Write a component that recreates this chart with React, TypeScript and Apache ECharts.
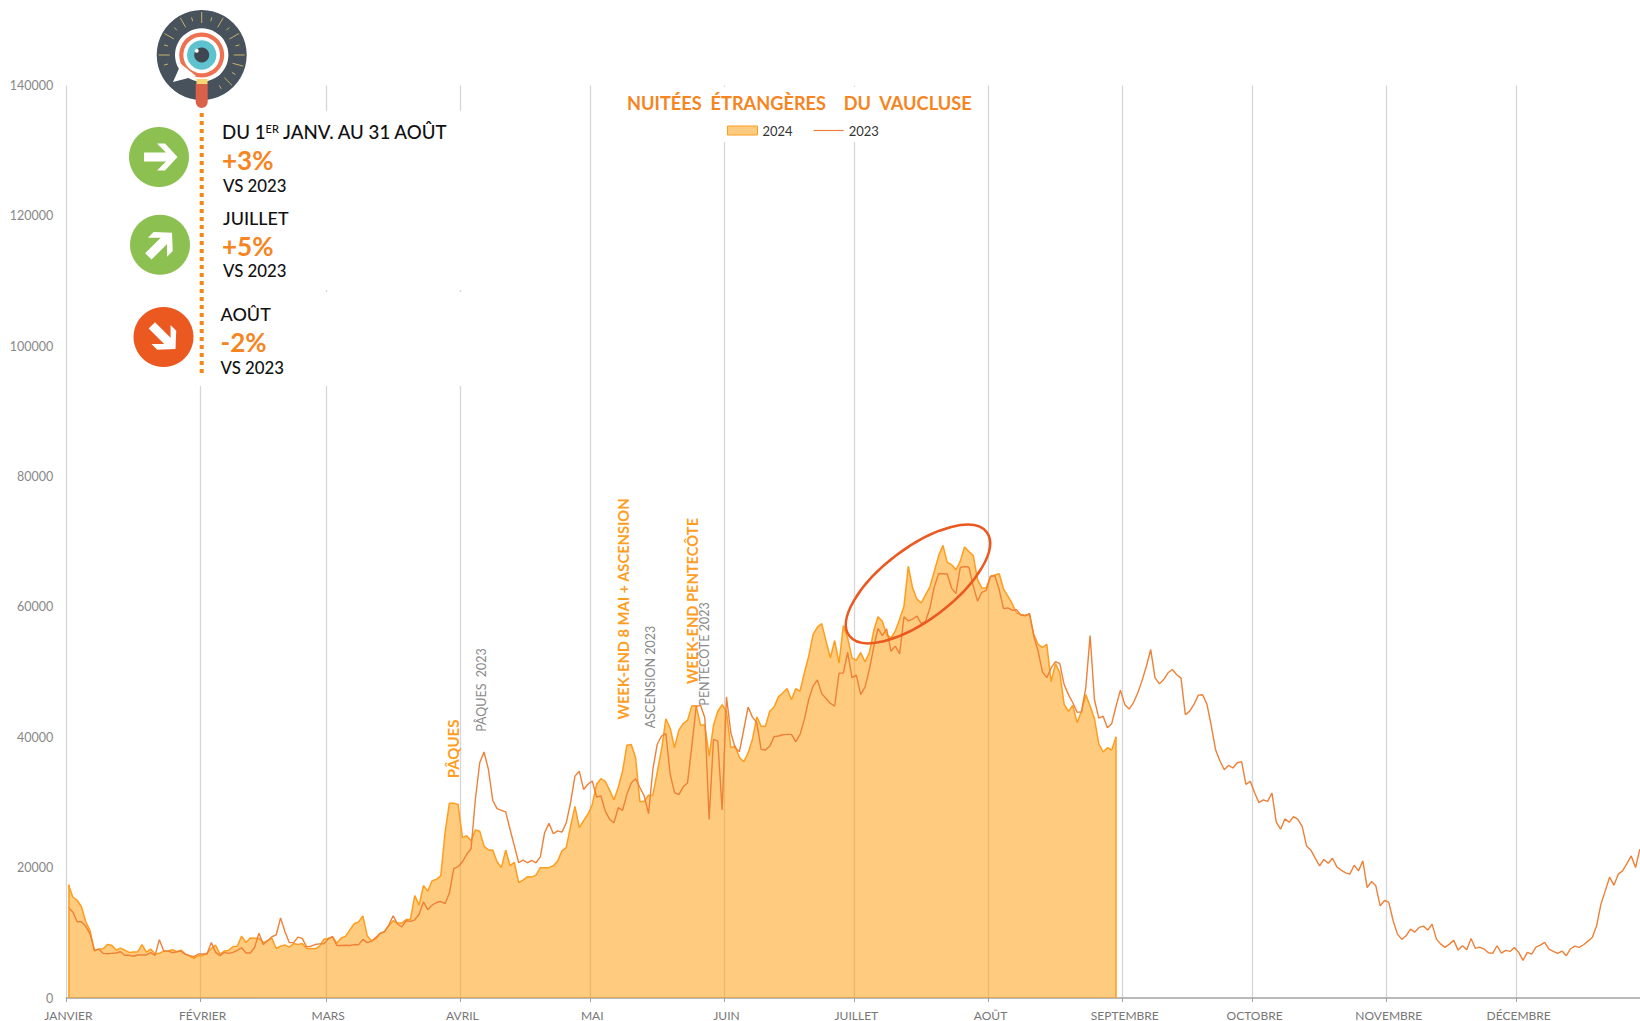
import React, { useEffect, useRef } from "react";
import * as echarts from "echarts";

const monthLabels = ["JANVIER","FÉVRIER","MARS","AVRIL","MAI","JUIN","JUILLET","AOÛT","SEPTEMBRE","OCTOBRE","NOVEMBRE","DÉCEMBRE"];
const monthStarts = [0,31,60,91,121,152,182,213,244,274,305,335];
const dayCount = 366;

const values2024 = [
17360,15500,15000,14000,11700,10300,7200,7500,7550,8200,8100,7350,7650,7350,7000,7050,7100,8200,7050,7500,6750,6850,7200,7200,7400,7100,7350,6750,6450,6100,6500,
6500,6900,7600,8100,6750,7200,7300,7900,7950,9500,8500,9200,9150,9150,8500,8800,9150,7600,7950,8150,7800,8350,8200,8350,7600,7600,7550,7950,9000,
9150,9400,8400,9200,9450,10450,11400,11650,12600,9550,8800,9050,9900,10200,11100,11850,11500,11500,12050,12050,15700,14250,17250,16400,18000,18200,18750,25400,29900,29900,29700,
24600,24900,24100,25800,25600,23300,22700,22700,20900,20000,22700,20300,20800,17700,18100,18600,18550,18850,20000,20000,20000,20300,21000,22570,23100,26400,29400,26150,27200,28200,
29700,32800,33650,33250,31900,30400,32300,34800,38800,38900,36900,30100,30200,31100,31150,34600,38150,42850,41400,38400,41100,42100,42600,44800,44850,41900,41900,37100,41800,44000,45000,
44000,38400,38650,36900,36250,37600,39700,43150,41700,41700,44000,44650,46200,46800,47500,45750,47450,47100,49900,52450,55750,56900,57450,54750,52200,54850,51400,57150,
55250,52200,51800,53000,51600,52950,56300,58500,57800,55750,55250,56300,58100,60100,66250,62900,61200,60600,61900,63100,65450,67800,69450,66850,66500,65700,67000,69200,68500,67900,64200,62900,62900,
64700,64900,65100,62750,61650,60500,59100,58850,58750,58850,55750,54250,53800,54250,48500,51300,49900,45050,44000,44900,42250,44000,46550,44800,42850,39000,37750,38400,38050,40100
];

const values2023 = [
13900,13200,11700,11700,11000,9800,7350,7500,6850,6800,6850,6900,7100,6550,6550,6400,6600,6600,6600,6950,6550,8950,7200,7200,6950,7100,7200,6700,6500,6350,6750,
6750,6750,8500,7000,6500,7000,6850,7000,7300,7700,6900,6900,7750,9950,8200,8800,9400,9700,12300,10200,8500,8500,9350,9150,7850,7950,8200,8300,8300,
9050,9400,8050,8050,8100,8050,8200,8150,9000,8500,8700,9300,9950,10150,11200,12600,11350,10900,11850,11750,12000,12850,14750,13550,14250,14650,14800,14500,16100,19850,20150,
20900,22050,22900,30500,36100,37750,35100,30350,29050,28800,28550,25900,23350,20750,21150,20750,21100,20750,21650,25400,26800,25200,25650,25450,26900,30000,34050,34800,32000,32800,
33300,30850,31000,28700,27400,26900,29200,28800,31250,33000,33650,32300,31000,28300,35100,38900,40200,40550,34300,31500,31200,32400,33000,38650,44700,44950,43000,27400,39700,39400,28850,
46200,40700,38400,37800,41200,44650,43100,42250,38150,38050,38650,40100,40200,40400,40450,40450,39300,40450,42750,45800,47850,48800,46700,45950,45200,44800,49850,49850,
53050,49150,49550,46550,47700,50400,53750,56700,55600,56650,53200,54000,52800,58500,57850,58150,58600,57450,57800,59850,63050,65100,65100,65050,62900,62050,66050,66200,66100,63200,60900,62250,62550,
64700,64800,62650,59750,59850,59500,59600,58750,58650,59000,55500,53200,50000,49150,50650,51600,51300,48100,46550,45300,43850,43900,47600,55600,45800,42950,43250,41450,42100,44800,
47240,45050,44330,45300,46800,48700,50900,53470,49130,48200,48870,49900,50400,49600,49080,43460,44020,45040,46470,46530,45050,41720,38050,36360,35030,35700,35290,36100,36260,32790,
33250,31500,29980,30390,30180,31460,27000,25900,27480,26960,27830,27420,26300,23340,22680,21450,20280,21250,20680,21450,20120,19610,19200,19000,20380,19510,21040,16950,17870,17210,14150,
14960,14660,11850,9800,8990,9550,10570,10110,10830,11030,10420,11340,9040,8270,7760,8270,8840,7350,8020,7400,9140,7610,7810,7510,6950,6840,8020,6890,7300,7150,
7760,7000,5770,7000,6740,7810,8120,8530,7510,7150,6840,7200,6490,7560,7970,7760,8170,8730,9290,11080,14400,16440,18540,17310,19000,19510,20630,21800,20020,22830
];

const yMax = 140000;
const yStep = 20000;

const titleText = "NUITÉES  ÉTRANGÈRES    DU  VAUCLUSE";
const annotations2024 = ["PÂQUES", "WEEK-END 8 MAI + ASCENSION", "WEEK-END PENTECÔTE"];
const annotations2023 = ["PÂQUES  2023", "ASCENSION 2023", "PENTECÔTE 2023"];

const ORANGE = "#F6851F";
const FILL = "#FF9900";
const LINE24 = "#FF9D1E";
const LINE23 = "#EE8038";

const categories = Array.from({ length: dayCount }, (_, i) => {
  const m = monthStarts.indexOf(i);
  return m >= 0 ? monthLabels[m] : "";
});
const isMonthStart = (i: number) => monthStarts.indexOf(i) >= 0;

const txt = (text: string, x: number, y: number, size: number, weight: number, fill: string, extra: any = {}) => ({
  type: "text", x, y, z: 100, silent: true, rotation: extra.rotation || 0,
  style: {
    text, fill,
    font: `${weight} ${size}px Lato`,
    align: extra.align || "left",
    verticalAlign: "middle",
  },
});
const vtxt = (text: string, x: number, y: number, size: number, weight: number, fill: string) =>
  txt(text, x, y, size, weight, fill, { rotation: Math.PI / 2, align: "center" });
const white = (x: number, y: number, width: number, height: number) => ({
  type: "rect", z: 50, silent: true, shape: { x, y, width, height }, style: { fill: "#fff" },
});
const circle = (cx: number, cy: number, r: number, fill: string) => ({
  type: "circle", z: 100, silent: true, shape: { cx, cy, r }, style: { fill },
});
const arrowPts = [[17,0],[4.5,-13.5],[-3.5,-13.5],[5.5,-4.5],[-16.5,-4.5],[-16.5,4.5],[5.5,4.5],[-3.5,13.5],[4.5,13.5]];
const arrow = (x: number, y: number, rotation: number) => ({
  type: "polygon", z: 101, silent: true, x, y, rotation, shape: { points: arrowPts }, style: { fill: "#fff" },
});

const rayAngles = [0,15,30,45,60,75,90,105,120,135,150,165,180,195,-15,-30,-45,-60];
const rays = rayAngles.map((deg, i) => {
  const a = (deg * Math.PI) / 180;
  const long = i % 2 === 0;
  const r0 = long ? 32 : 35;
  const r1 = long ? 43 : 39;
  return {
    type: "line", z: 101, silent: true,
    shape: { x1: 201.7 + r0 * Math.cos(a), y1: 55 - r0 * Math.sin(a), x2: 201.7 + r1 * Math.cos(a), y2: 55 - r1 * Math.sin(a) },
    style: { stroke: "#C8B26A", lineWidth: 1 },
  };
});

export default function App() {
  const ref = useRef<HTMLDivElement>(null);
  useEffect(() => {
    const chart = echarts.init(ref.current!, undefined, { renderer: "svg" });
    const last = values2024.length - 1;
    const edgeLine = (i: number, v: number) => [{ coord: [i, 0] }, { coord: [i, v] }];
    chart.setOption({
      animation: false,
      backgroundColor: "#fff",
      textStyle: { fontFamily: "Lato" },
      grid: { left: 66.3, top: 85.6, width: 4.329 * dayCount, height: 913.4, containLabel: false },
      legend: {
        left: 727, top: 124, z: 200, padding: 0, itemWidth: 30, itemHeight: 9, itemGap: 21, selectedMode: false,
        textStyle: { color: "#333", fontSize: 13, fontFamily: "Lato", padding: [1, 0, 0, 0] },
        data: [
          { name: "2024", icon: "rect", itemStyle: { color: "#FDCB80", borderColor: LINE24, borderWidth: 1 } },
          { name: "2023", icon: "path://M0,4 H30 V5.2 H0 Z", itemStyle: { color: LINE23, borderWidth: 0 } },
        ],
      },
      xAxis: {
        type: "category",
        data: categories,
        boundaryGap: true,
        axisLine: { show: true, lineStyle: { color: "#A3A3A3", width: 1.5 } },
        axisTick: { show: true, length: 4, interval: (i: number) => isMonthStart(i), lineStyle: { color: "#A3A3A3", width: 1 } },
        axisLabel: { show: true, interval: (i: number) => isMonthStart(i), color: "#777", fontSize: 12, fontFamily: "Lato", margin: 11, hideOverlap: false },
        splitLine: { show: true, interval: (i: number) => isMonthStart(i), lineStyle: { color: "#D6D6D6", width: 1.3 } },
      },
      yAxis: {
        type: "value", min: 0, max: yMax, interval: yStep,
        axisLine: { show: false }, axisTick: { show: false }, splitLine: { show: false },
        axisLabel: { color: "#888", fontSize: 12.5, fontFamily: "Lato", margin: 13, formatter: (v: number) => String(v) },
      },
      series: [
        {
          name: "2024", type: "line", data: values2024, showSymbol: false, symbol: "none", smooth: false, silent: true,
          lineStyle: { color: LINE24, width: 1.5 },
          areaStyle: { color: FILL, opacity: 0.5 },
          markLine: {
            silent: true, symbol: "none", label: { show: false },
            lineStyle: { color: LINE24, width: 1.5, type: "solid" },
            data: [edgeLine(0, values2024[0]), edgeLine(last, values2024[last])],
          },
        },
        {
          name: "2023", type: "line", data: values2023, showSymbol: false, symbol: "none", smooth: false, silent: true,
          lineStyle: { color: LINE23, width: 1.4 },
        },
      ],
      graphic: { elements: [
        white(190, 110.7, 280, 179.3),
        white(190, 292, 280, 94),
        white(145, 4, 113, 111),
        white(620, 87, 355, 55),
        // logo
        circle(201.7, 55, 45, "#47525C"),
        ...rays,
        { type: "polygon", z: 101, silent: true, shape: { points: [[173,82],[181,64],[196,76]] }, style: { fill: "#fff" } },
        circle(201.7, 55, 26.7, "#fff"),
        circle(201.7, 55, 22.5, "#EE7152"),
        circle(201.7, 55, 18.3, "#fff"),
        circle(201.7, 55, 14.7, "#5FC3CF"),
        circle(201.7, 55, 7.5, "#3F4750"),
        circle(196.7, 50.7, 2, "#fff"),
        { type: "rect", z: 102, silent: true, shape: { x: 196.5, y: 79, width: 11, height: 5 }, style: { fill: "#F7D774" } },
        { type: "rect", z: 102, silent: true, shape: { x: 195.7, y: 84, width: 12, height: 24, r: [0, 0, 6, 6] }, style: { fill: "#D9614A" } },
        // dotted stem
        { type: "line", z: 100, silent: true, shape: { x1: 201.7, y1: 113, x2: 201.7, y2: 373 }, style: { stroke: ORANGE, lineWidth: 4, lineDash: [4, 4] } },
        // KPI icons
        circle(159, 157, 30, "#8CC152"),
        arrow(160.5, 157, 0),
        circle(160, 244.7, 30, "#8CC152"),
        arrow(160, 244.7, Math.PI / 4),
        circle(163.5, 337, 30, "#EB5820"),
        arrow(163.5, 337, -Math.PI / 4),
        // KPI texts
        {
          type: "text", x: 222, y: 132, z: 100, silent: true,
          style: {
            text: "{a|DU 1}{s|ER}{a| JANV. AU 31 AOÛT}", fill: "#111", verticalAlign: "middle", align: "left",
            rich: {
              a: { font: "500 18.7px Lato", fill: "#111" },
              s: { font: "500 11px Lato", fill: "#111", verticalAlign: "top" },
            },
          },
        },
        txt("+3%", 222, 160, 26, 700, ORANGE),
        txt("VS 2023", 223, 185, 16.8, 500, "#111"),
        txt("JUILLET", 223, 218, 18, 500, "#111"),
        txt("+5%", 222, 245.5, 26, 700, ORANGE),
        txt("VS 2023", 223, 270.7, 16.8, 500, "#111"),
        txt("AOÛT", 220.5, 314, 18, 500, "#111"),
        txt("-2%", 220.5, 342, 26, 700, ORANGE),
        txt("VS 2023", 220.5, 367, 16.8, 500, "#111"),
        // title
        txt(titleText, 627, 103, 18.2, 700, ORANGE),
        // annotations
        vtxt(annotations2024[0], 453, 749, 15, 700, LINE24),
        vtxt(annotations2024[1], 622.7, 609, 14.7, 700, LINE24),
        vtxt(annotations2024[2], 692, 601, 14.7, 700, LINE24),
        vtxt(annotations2023[0], 481, 690, 12.5, 400, "#8A8A8A"),
        vtxt(annotations2023[1], 650, 677, 12.5, 400, "#8A8A8A"),
        vtxt(annotations2023[2], 704, 654, 12.5, 400, "#8A8A8A"),
        // highlight ellipse
        {
          type: "ellipse", z: 110, silent: true, x: 918, y: 584, rotation: (37 * Math.PI) / 180,
          shape: { cx: 0, cy: 0, rx: 86, ry: 36 },
          style: { fill: "none", stroke: "#EB5820", lineWidth: 2.5 },
        },
      ] },
    });
    return () => chart.dispose();
  }, []);
  return (
    <div style={{ position: "absolute", left: 0, top: 0, width: 1640, height: 1021, overflow: "hidden" }}>
      <div ref={ref} style={{ width: 1670, height: 1021 }} />
    </div>
  );
}
